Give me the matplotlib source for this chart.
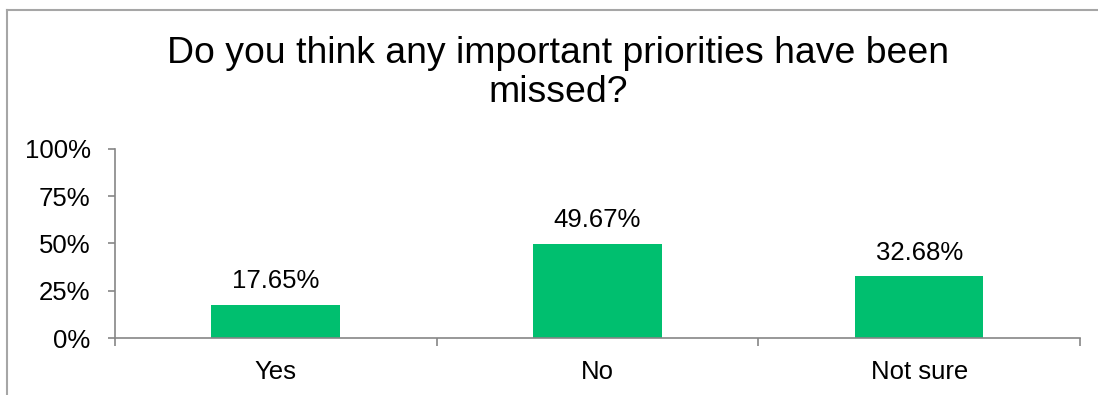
import matplotlib
matplotlib.use("Agg")
import matplotlib.pyplot as plt
from matplotlib.lines import Line2D

plt.rcParams['font.family'] = ['Liberation Sans', 'DejaVu Sans']

categories = ["Yes", "No", "Not sure"]
percentages = [17.65, 49.67, 32.68]
y_ticks = [0, 25, 50, 75, 100]

bar_color = "#00BF6F"
axis_color = "#868686"

fig = plt.figure(figsize=(10.98, 3.95), dpi=100)
ax = fig.add_axes([0.1047, 0.1443, 0.8789, 0.4785])

x = list(range(len(categories)))
bars = ax.bar(x, percentages, width=0.4, color=bar_color)

for rect, val in zip(bars, percentages):
    ax.annotate(f"{val:.2f}%", (rect.get_x() + rect.get_width() / 2, rect.get_height()),
                xytext=(0, 12), textcoords="offset points",
                ha="center", va="baseline", fontsize=18.5)

ax.set_xlim(-0.5, len(categories) - 0.5)
ax.set_ylim(0, 100)
ax.set_yticks(y_ticks)
ax.set_yticklabels([f"{t}%" for t in y_ticks])
ax.set_xticks(x)
ax.set_xticklabels(categories)
ax.set_xticks([i - 0.5 for i in range(len(categories) + 1)], minor=True)

ax.tick_params(axis="x", which="major", length=0, labelsize=18.5, pad=16)
ax.tick_params(axis="x", which="minor", length=6, width=1.2, color=axis_color, direction="out")
ax.tick_params(axis="y", length=5, width=1.2, color=axis_color, labelsize=18.5, pad=12.5)

for side in ("top", "right"):
    ax.spines[side].set_visible(False)
for side in ("left", "bottom"):
    ax.spines[side].set_color(axis_color)
    ax.spines[side].set_linewidth(1.2)

fig.text(0.508, 0.814, "Do you think any important priorities have been\nmissed?",
         ha="center", va="center", fontsize=26.9, linespacing=1.15)

# outer chart frame (only top and left edges fall inside the image)
frame_x = 7 / 1098
frame_y = 1 - 10 / 395
fig.add_artist(Line2D([frame_x, 1], [frame_y, frame_y], color="#a6a6a6", lw=1.5))
fig.add_artist(Line2D([frame_x, frame_x], [0, frame_y], color="#a6a6a6", lw=1.5))

fig.savefig("out.png", dpi=100)
